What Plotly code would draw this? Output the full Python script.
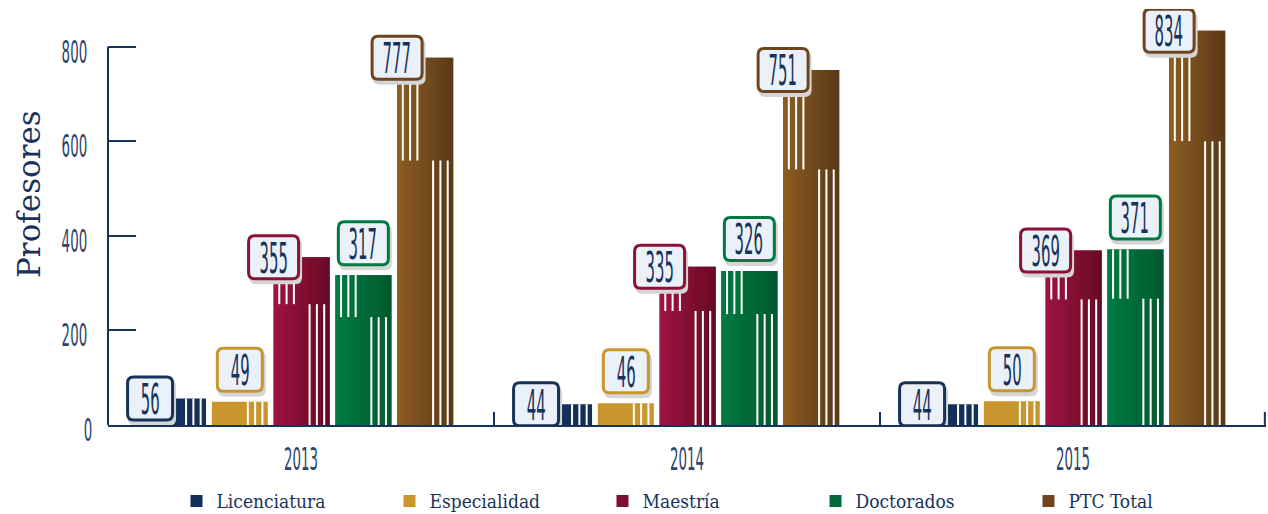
import plotly.graph_objects as go

# ---------------- data ----------------
years = ["2013", "2014", "2015"]
series_names = ["Licenciatura", "Especialidad", "Maestría", "Doctorados", "PTC Total"]
licenciatura = [56, 44, 44]
especialidad = [49, 46, 50]
maestria = [355, 335, 369]
doctorados = [317, 326, 371]
ptc_total = [777, 751, 834]
y_ticks = [0, 200, 400, 600, 800]

# ---------------- style ----------------
values = [licenciatura, especialidad, maestria, doctorados, ptc_total]
legend_colors = ["#13305a", "#c9952d", "#7e0f30", "#006b3a", "#6f4520"]
grad_left = ["#13305a", "#c9952d", "#9c1541", "#007a40", "#8d5c21"]
grad_right = ["#13305a", "#c9952d", "#6a0a26", "#005a2f", "#5b3a18"]
border_colors = ["#17335c", "#c9952d", "#8a1236", "#007a40", "#6f4520"]
label_mode = ["corner", "above", "corner", "above", "corner"]
NAVY = "#17335c"
TICK_FONT = "DejaVu Sans Condensed, DejaVu Sans, sans-serif"

BAR_W = 0.145
offsets = [-0.391, -0.231, -0.071, 0.089, 0.249]
Y_MAX = 880
PLOT_H = 416.0
PX_PER_UNIT = PLOT_H / Y_MAX

fig = go.Figure()

for name, vals, col, off in zip(series_names, values, legend_colors, offsets):
    fig.add_trace(go.Bar(
        x=years, y=vals, name=name, width=BAR_W, offset=off,
        marker=dict(color=col, line=dict(width=0)),
        hovertemplate="%{x}<br>" + name + ": %{y}<extra></extra>",
    ))


def hex2rgb(h):
    h = h.lstrip("#")
    return tuple(int(h[i:i + 2], 16) for i in (0, 2, 4))


def mix(c1, c2, t):
    a, b = hex2rgb(c1), hex2rgb(c2)
    return "rgb(%d,%d,%d)" % tuple(round(a[i] + (b[i] - a[i]) * t) for i in range(3))


shapes = []
annotations = []
K = 14
for j, vals in enumerate(values):
    for i, v in enumerate(vals):
        left = i + offsets[j]
        # gradient slices
        if grad_left[j] != grad_right[j]:
            for k in range(K):
                shapes.append(dict(
                    type="rect", xref="x", yref="y", layer="above",
                    x0=left + BAR_W * k / K, x1=left + BAR_W * (k + 1) / K + 0.0006,
                    y0=0, y1=v, line=dict(width=0),
                    fillcolor=mix(grad_left[j], grad_right[j], k / (K - 1)),
                ))
        # white stripes
        trans = 0.72 * v if v > 100 else v
        for rel in (35.0, 42.3, 49.6):
            shapes.append(dict(
                type="rect", xref="x", xsizemode="pixel", xanchor=left,
                x0=rel, x1=rel + 2, yref="y", y0=0, y1=trans, layer="above",
                line=dict(width=0), fillcolor="white",
            ))
        if v > 100:
            top_u = v - 24 / PX_PER_UNIT if label_mode[j] == "corner" else v
            for rel in (4.7, 12.0, 19.3):
                shapes.append(dict(
                    type="rect", xref="x", xsizemode="pixel", xanchor=left,
                    x0=rel, x1=rel + 2, yref="y", y0=trans, y1=top_u, layer="above",
                    line=dict(width=0), fillcolor="white",
                ))


def rrect(cx, cy, w, h, r):
    x0, x1 = cx - w / 2, cx + w / 2
    y0, y1 = cy - h / 2, cy + h / 2
    return (f"M{x0 + r},{y0} L{x1 - r},{y0} Q{x1},{y0} {x1},{y0 + r} "
            f"L{x1},{y1 - r} Q{x1},{y1} {x1 - r},{y1} L{x0 + r},{y1} "
            f"Q{x0},{y1} {x0},{y1 - r} L{x0},{y0 + r} Q{x0},{y0} {x0 + r},{y0} Z")


# value labels
for j, vals in enumerate(values):
    for i, v in enumerate(vals):
        left = i + offsets[j]
        if label_mode[j] == "corner":
            ax, cy = left, 0
        else:
            ax, cy = left + BAR_W / 2, 32
        w = 53 if v >= 100 else 48
        h = 46
        shapes.append(dict(
            type="path", xref="x", yref="y", xsizemode="pixel", ysizemode="pixel",
            xanchor=ax, yanchor=v, path=rrect(2, cy - 4, w, h, 7), layer="above",
            fillcolor="#d5d5d5", line=dict(width=0),
        ))
        shapes.append(dict(
            type="path", xref="x", yref="y", xsizemode="pixel", ysizemode="pixel",
            xanchor=ax, yanchor=v, path=rrect(0, cy, w - 3, h - 3, 6), layer="above",
            fillcolor="#eaf1f8", line=dict(width=3, color=border_colors[j]),
        ))
        annotations.append(dict(
            x=ax, y=v, xref="x", yref="y", yshift=cy, showarrow=False,
            text=str(v), font=dict(family=TICK_FONT, size=30, color=NAVY, weight=200),
            xanchor="center", yanchor="middle",
        ))

# y axis line (0..800) and category dividers
shapes.append(dict(type="line", xref="paper", yref="y", x0=0, x1=0, y0=0, y1=y_ticks[-1],
                   line=dict(color=NAVY, width=2), layer="above"))
for b in (0.5, 1.5):
    shapes.append(dict(type="line", xref="x", yref="y", ysizemode="pixel", yanchor=0,
                       x0=b, x1=b, y0=-50, y1=13, line=dict(color=NAVY, width=2), layer="above"))
shapes.append(dict(type="line", xref="x", yref="y", ysizemode="pixel", yanchor=0,
                   x0=2.497, x1=2.497, y0=0, y1=13, line=dict(color=NAVY, width=2), layer="above"))

annotations.append(dict(
    text="Profesores", xref="paper", yref="paper", x=-0.0683, y=0.555,
    textangle=-90, showarrow=False, xanchor="center", yanchor="middle",
    font=dict(family="DejaVu Serif", size=31, color=NAVY),
))

fig.update_layout(
    width=1268, height=514,
    margin=dict(l=108, r=2, t=9, b=89, autoexpand=False),
    paper_bgcolor="white", plot_bgcolor="white",
    barmode="overlay",
    shapes=shapes, annotations=annotations,
    showlegend=True,
    legend=dict(
        orientation="h", x=0.519, xanchor="center", y=-0.183, yanchor="middle",
        font=dict(family="DejaVu Serif Condensed, DejaVu Serif", size=19, color=NAVY),
        entrywidth=168, traceorder="normal", bgcolor="rgba(0,0,0,0)",
    ),
    xaxis=dict(
        type="category", range=[-0.5, 2.5], showline=True, linecolor=NAVY, linewidth=2,
        ticks="", showgrid=False, zeroline=False, ticklabelstandoff=12, automargin=False,
        tickfont=dict(family=TICK_FONT, size=24, color="#2b4468", weight=200),
    ),
    yaxis=dict(
        range=[0, Y_MAX], tickvals=y_ticks, ticks="inside", ticklen=28, tickwidth=2,
        tickcolor=NAVY, showline=False, showgrid=False, zeroline=False, automargin=False,
        ticklabelstandoff=12, ticklabelshift=5,
        tickfont=dict(family=TICK_FONT, size=24, color="#2b4468", weight=200),
    ),
)

# Page without default body margin; narrow, tall digits like the original condensed typeface
post_js = r"""
(function(){
  document.body.style.margin = '0';
  document.body.style.overflow = 'hidden';
  var gd = document.getElementById('{plot_id}');
  function sq(el, sx, sy){
    var cur = el.getAttribute('transform') || '';
    if (el.__sqDone && el.__sqDone === cur) return;
    var base = cur;
    var b = el.getBBox();
    var cx = b.x + b.width/2, cy = b.y + b.height/2;
    var nt = base + ' translate(' + cx + ',' + cy + ') scale(' + sx + ',' + sy + ') translate(' + (-cx) + ',' + (-cy) + ')';
    el.setAttribute('transform', nt);
    el.__sqDone = nt;
  }
  function run(){
    gd.querySelectorAll('.annotation-text').forEach(function(el){
      if (/^\d+$/.test(el.textContent.trim())) sq(el, 0.55, 1.45);
    });
    gd.querySelectorAll('.xtick text, .ytick text').forEach(function(el){ sq(el, 0.62, 1.3); });
  }
  run();
  if (gd.on) gd.on('plotly_afterplot', run);
})();
"""

fig.write_html("out.html", post_script=post_js, config={"displayModeBar": False})
